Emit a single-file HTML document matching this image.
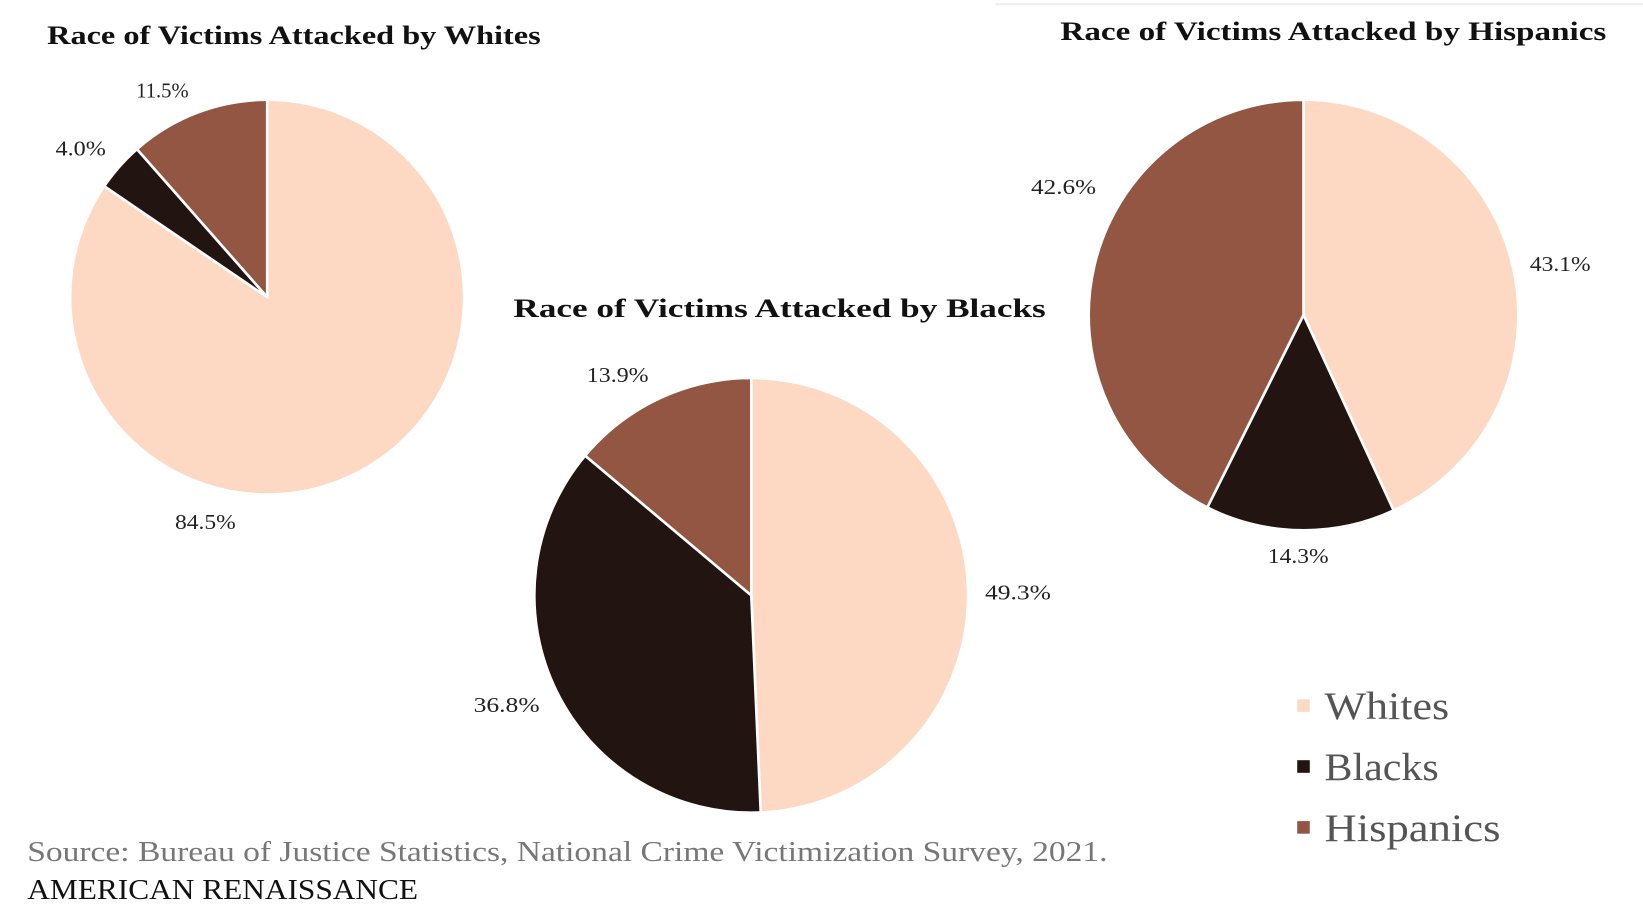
<!DOCTYPE html>
<html><head><style>
html,body{margin:0;padding:0;background:#fff;}
svg{display:block;}
.t{font-family:"Liberation Serif",serif;font-weight:bold;font-size:25px;fill:#111;}
.l{font-family:"Liberation Serif",serif;font-size:20px;fill:#222;}
.g{font-family:"Liberation Serif",serif;font-size:37px;fill:#555;}
</style></head><body>
<svg width="1643" height="924" viewBox="0 0 1568 880" preserveAspectRatio="none" xmlns="http://www.w3.org/2000/svg">
<rect width="1568" height="880" fill="#fff"/>
<line x1="950" y1="4" x2="1568" y2="4" stroke="#eee" stroke-width="2"/>
<g stroke="#fff" stroke-width="2.5" stroke-linejoin="round">
<path d="M255,283 L255,95 A188,188 0 1 1 99.5,177.3 Z" fill="#fdd9c4"/>
<path d="M255,283 L99.5,177.3 A188,188 0 0 1 130.7,142 Z" fill="#221411"/>
<path d="M255,283 L130.7,142 A188,188 0 0 1 255,95 Z" fill="#935642"/>

<path d="M717,567 L717,360 A207,207 0 0 1 726,773.8 Z" fill="#fdd9c4"/>
<path d="M717,567 L726,773.8 A207,207 0 0 1 558.4,433.9 Z" fill="#221411"/>
<path d="M717,567 L558.4,433.9 A207,207 0 0 1 717,360 Z" fill="#935642"/>

<path d="M1244,300 L1244,95 A205,205 0 0 1 1330,486.1 Z" fill="#fdd9c4"/>
<path d="M1244,300 L1330,486.1 A205,205 0 0 1 1152.2,483.3 Z" fill="#221411"/>
<path d="M1244,300 L1152.2,483.3 A205,205 0 0 1 1244,95 Z" fill="#935642"/>
</g>
<text class="t" x="45" y="42" textLength="471" lengthAdjust="spacingAndGlyphs">Race of Victims Attacked by Whites</text>
<text class="t" x="490" y="302" textLength="508" lengthAdjust="spacingAndGlyphs">Race of Victims Attacked by Blacks</text>
<text class="t" x="1012" y="38" textLength="521" lengthAdjust="spacingAndGlyphs">Race of Victims Attacked by Hispanics</text>
<text class="l" x="130" y="93" textLength="50" lengthAdjust="spacingAndGlyphs">11.5%</text>
<text class="l" x="53" y="148" textLength="48" lengthAdjust="spacingAndGlyphs">4.0%</text>
<text class="l" x="167" y="504" textLength="58" lengthAdjust="spacingAndGlyphs">84.5%</text>
<text class="l" x="560" y="364" textLength="59" lengthAdjust="spacingAndGlyphs">13.9%</text>
<text class="l" x="452" y="678" textLength="63" lengthAdjust="spacingAndGlyphs">36.8%</text>
<text class="l" x="940" y="571" textLength="63" lengthAdjust="spacingAndGlyphs">49.3%</text>
<text class="l" x="984" y="185" textLength="62" lengthAdjust="spacingAndGlyphs">42.6%</text>
<text class="l" x="1460" y="258" textLength="58" lengthAdjust="spacingAndGlyphs">43.1%</text>
<text class="l" x="1210" y="536" textLength="58" lengthAdjust="spacingAndGlyphs">14.3%</text>
<rect x="1238" y="666" width="12" height="12" fill="#fdd9c4"/>
<rect x="1238" y="724" width="12" height="12" fill="#221411"/>
<rect x="1238" y="782" width="12" height="12" fill="#935642"/>
<text class="g" x="1264" y="685" textLength="119" lengthAdjust="spacingAndGlyphs">Whites</text>
<text class="g" x="1264" y="743" textLength="109" lengthAdjust="spacingAndGlyphs">Blacks</text>
<text class="g" x="1264" y="801" textLength="168" lengthAdjust="spacingAndGlyphs">Hispanics</text>
<text x="26" y="820" font-family="Liberation Serif, serif" font-size="27" fill="#777" textLength="1031" lengthAdjust="spacingAndGlyphs">Source: Bureau of Justice Statistics, National Crime Victimization Survey, 2021.</text>
<text x="26" y="856" font-family="Liberation Serif, serif" font-size="27" fill="#111" textLength="373" lengthAdjust="spacingAndGlyphs">AMERICAN RENAISSANCE</text>
</svg>
</body></html>
